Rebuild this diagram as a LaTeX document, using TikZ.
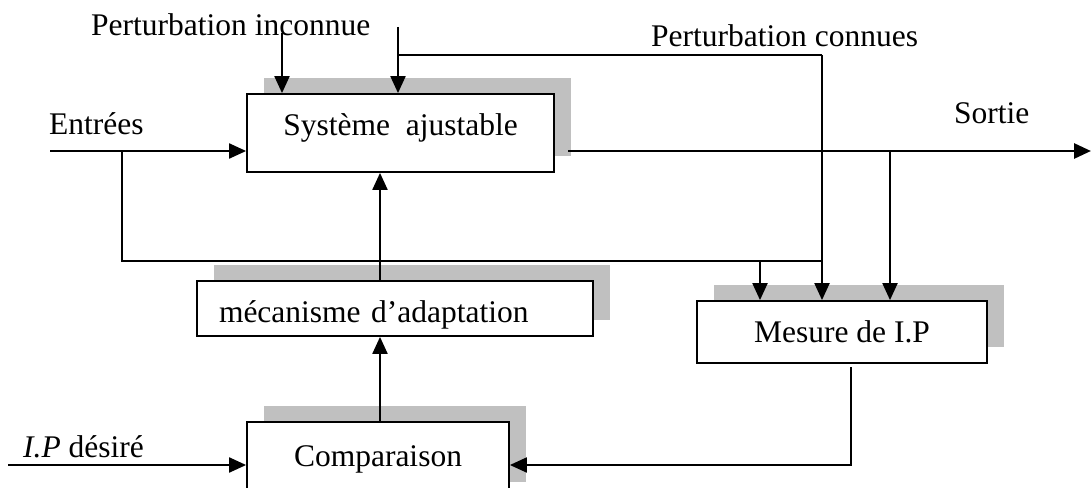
\documentclass[tikz,border=0pt]{standalone}
\usepackage{fontspec}
\setmainfont{Liberation Serif}
\usepackage{tikz}
\usetikzlibrary{arrows.meta, shadows}

\definecolor{boxshadow}{RGB}{192,192,192}

\begin{document}
\begin{tikzpicture}[
    x=1pt, y=-1pt,
    font=\fontsize{31.5}{38}\selectfont,
    block/.style={rectangle, draw=black, line width=1.8pt, fill=white, inner sep=0pt, text height=21pt, text depth=0pt,
        drop shadow={shadow xshift=17pt, shadow yshift=16pt, fill=boxshadow, opacity=1}},
    arrow/.style={-{Triangle[length=17pt, width=15pt]}, line width=2.1pt},
    wire/.style={line width=2.1pt},
    lbl/.style={inner sep=0pt, anchor=base west}
]
\useasboundingbox (0,0) rectangle (1091,487);

% Blocks
\node[block, minimum width=307pt, minimum height=78pt, text depth=17pt] (sys) at (400.5,133) {Système\ \ ajustable};
\node[block, minimum width=396pt, minimum height=55pt, text width=352pt, align=left, inner xsep=22pt, text height=27pt] (adapt) at (395,308.5) {mécanisme d'adaptation};
\node[block, minimum width=290pt, minimum height=62pt] (mesure) at (842,332) {Mesure de I.P};
\node[block, minimum width=262pt, minimum height=76pt, text depth=9pt] (comp) at (378,460) {Comparaison};

% Labels
\node[lbl] (pinc) at (91,36) {Perturbation inconnue};
\node[lbl] (pcon) at (651,46) {Perturbation connues};
\node[lbl] (entr) at (49,134) {Entrées};
\node[lbl] (sort) at (954,123) {Sortie};
\node[lbl] (ipd) at (23,457) {\textit{I.P} désiré};

% Wire ends and corners
\coordinate (pu) at (282,33);
\coordinate (pk) at (398,27);
\coordinate (pkb) at (398,55);
\coordinate (pkc) at (822,55);
\coordinate (in) at (50,151);
\coordinate (inb) at (122,151);
\coordinate (fb) at (122,261);
\coordinate (fbc) at (822,261);
\coordinate (fbm) at (760,261);
\coordinate (out) at (568,151);
\coordinate (outb) at (890,151);
\coordinate (outend) at (1091,151);
\coordinate (mid) at (380,0);
\coordinate (ip) at (8,465);
\coordinate (mb) at (851,367);
\coordinate (mc) at (851,465);

% Disturbances
\draw[arrow] (pu) -- (pu |- sys.north);
\draw[arrow] (pk) -- (pk |- sys.north);
\draw[wire] (pkb) -- (pkc);
\draw[arrow] (pkc) -- (pkc |- mesure.north);

% Inputs
\draw[arrow] (in) -- (in -| sys.west);
\draw[wire] (inb) -- (fb) -- (fbc);
\draw[arrow] (fbm) -- (fbm |- mesure.north);

% Output
\draw[wire, line width=1.5pt] (out) -- (outb);
\draw[arrow, line width=2.8pt] (outb) -- (outend);
\draw[arrow] (outb) -- (outb |- mesure.north);

% Adaptation loop
\draw[arrow] (mid |- adapt.north) -- (mid |- sys.south);
\draw[arrow] (mid |- comp.north) -- (mid |- adapt.south);
\draw[arrow] (ip) -- (ip -| comp.west);
\draw[arrow] (mb) -- (mc) -- (mc -| comp.east);

\end{tikzpicture}
\end{document}
